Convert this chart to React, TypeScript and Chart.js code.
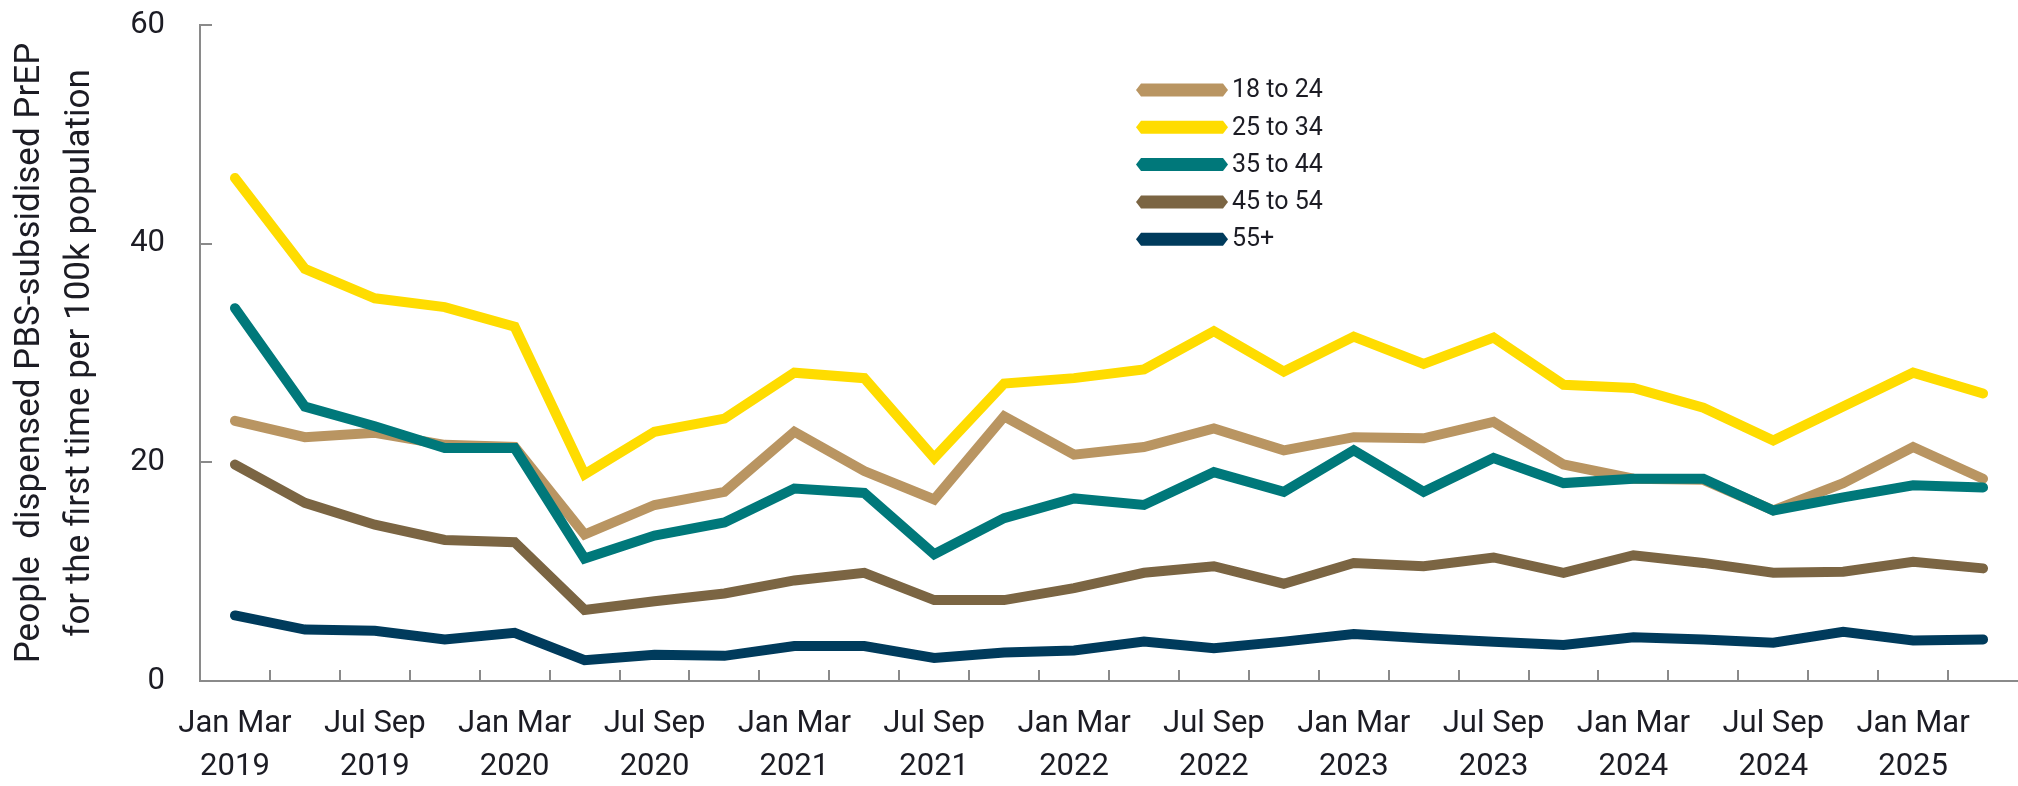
import React, { useEffect, useRef } from "react";
import { Chart, registerables } from "chart.js";

Chart.register(...registerables);

const quarterLabels = [
  "Jan Mar 2019", "Apr Jun 2019", "Jul Sep 2019", "Oct Dec 2019",
  "Jan Mar 2020", "Apr Jun 2020", "Jul Sep 2020", "Oct Dec 2020",
  "Jan Mar 2021", "Apr Jun 2021", "Jul Sep 2021", "Oct Dec 2021",
  "Jan Mar 2022", "Apr Jun 2022", "Jul Sep 2022", "Oct Dec 2022",
  "Jan Mar 2023", "Apr Jun 2023", "Jul Sep 2023", "Oct Dec 2023",
  "Jan Mar 2024", "Apr Jun 2024", "Jul Sep 2024", "Oct Dec 2024",
  "Jan Mar 2025", "Apr Jun 2025",
];

const age18to24 = [23.8, 22.3, 22.7, 21.6, 21.4, 13.4, 16.1, 17.3, 22.8, 19.2, 16.6, 24.2, 20.7, 21.4, 23.1, 21.1, 22.3, 22.2, 23.7, 19.8, 18.5, 18.4, 15.6, 18.1, 21.4, 18.5];
const age25to34 = [46.0, 37.7, 35.0, 34.2, 32.4, 18.9, 22.8, 24.0, 28.2, 27.7, 20.4, 27.2, 27.7, 28.5, 32.0, 28.3, 31.5, 29.0, 31.4, 27.1, 26.8, 25.0, 22.0, 25.1, 28.2, 26.3];
const age35to44 = [34.1, 25.1, 23.3, 21.3, 21.3, 11.2, 13.3, 14.5, 17.6, 17.2, 11.6, 14.9, 16.7, 16.1, 19.1, 17.3, 21.1, 17.3, 20.4, 18.1, 18.5, 18.5, 15.6, 16.8, 17.9, 17.7];
const age45to54 = [19.8, 16.3, 14.3, 12.9, 12.7, 6.5, 7.3, 8.0, 9.2, 9.9, 7.4, 7.4, 8.5, 9.9, 10.5, 8.9, 10.8, 10.5, 11.3, 9.9, 11.5, 10.8, 9.9, 10.0, 10.9, 10.3];
const age55plus = [6.0, 4.7, 4.6, 3.8, 4.4, 1.9, 2.4, 2.3, 3.2, 3.2, 2.1, 2.6, 2.8, 3.6, 3.0, 3.6, 4.3, 3.9, 3.6, 3.3, 4.0, 3.8, 3.5, 4.5, 3.7, 3.8];

const seriesNames = ["18 to 24", "25 to 34", "35 to 44", "45 to 54", "55+"];
const seriesColors = ["#B99562", "#FFDC00", "#00787A", "#7B6543", "#003B5C"];
const seriesValues = [age18to24, age25to34, age35to44, age45to54, age55plus];

const yTitle = ["People  dispensed PBS-subsidised PrEP", "for the first time per 100k population"];

const FONT = "Roboto, 'Liberation Sans', Arial, sans-serif";
const TEXT = "#1c1c24";
const AXIS = "#8a8a8a";

function splitLabel(label: string): string[] {
  const k = label.lastIndexOf(" ");
  return [label.slice(0, k), label.slice(k + 1)];
}

const innerTicks = {
  id: "innerTicks",
  afterDatasetsDraw(chart: any) {
    const { ctx, scales } = chart;
    const x = scales.x;
    const y = scales.y;
    ctx.save();
    ctx.strokeStyle = AXIS;
    ctx.lineWidth = 2;
    y.ticks.forEach((t: any) => {
      const py = Math.round(y.getPixelForValue(t.value));
      ctx.beginPath();
      ctx.moveTo(x.left, py);
      ctx.lineTo(x.left + 12, py);
      ctx.stroke();
    });
    for (let i = 1; i < quarterLabels.length; i++) {
      const px = Math.round((x.getPixelForValue(i) + x.getPixelForValue(i - 1)) / 2);
      ctx.beginPath();
      ctx.moveTo(px, y.bottom);
      ctx.lineTo(px, y.bottom - 11);
      ctx.stroke();
    }
    ctx.restore();
  },
};

const customLegend = {
  id: "customLegend",
  afterDraw(chart: any) {
    const { ctx } = chart;
    const x0 = 1136;
    const x1 = 1228;
    const h = 13;
    const startY = 90;
    const step = 37.3;
    ctx.save();
    ctx.font = `25px ${FONT}`;
    ctx.textBaseline = "middle";
    ctx.textAlign = "left";
    seriesNames.forEach((name, k) => {
      const cy = startY + k * step;
      ctx.fillStyle = seriesColors[k];
      ctx.beginPath();
      ctx.moveTo(x0, cy);
      ctx.lineTo(x0 + 5, cy - h / 2);
      ctx.lineTo(x1 - 5, cy - h / 2);
      ctx.lineTo(x1, cy);
      ctx.lineTo(x1 - 5, cy + h / 2);
      ctx.lineTo(x0 + 5, cy + h / 2);
      ctx.closePath();
      ctx.fill();
      ctx.fillStyle = TEXT;
      ctx.fillText(name, x1 + 4, cy + 1);
    });
    ctx.restore();
  },
};

export default function App() {
  const ref = useRef<HTMLCanvasElement>(null);
  useEffect(() => {
    document.body.style.margin = "0";
    const chart = new Chart(ref.current as HTMLCanvasElement, {
      type: "line",
      data: {
        labels: quarterLabels,
        datasets: seriesNames.map((name, k) => ({
          label: name,
          data: seriesValues[k],
          borderColor: seriesColors[k],
          backgroundColor: seriesColors[k],
          borderWidth: 10,
          pointRadius: 0,
          pointHoverRadius: 0,
          tension: 0,
          order: 5 - k,
          borderCapStyle: "round",
          borderJoinStyle: "miter",
          fill: false,
        })),
      },
      options: {
        animation: false,
        responsive: true,
        maintainAspectRatio: false,
        layout: { padding: { top: 25, right: 0, left: 0, bottom: 0 } },
        plugins: { legend: { display: false }, tooltip: { enabled: false } },
        scales: {
          x: {
            offset: true,
            grid: { display: false, drawTicks: false, offset: true },
            border: { display: true, color: AXIS, width: 2 },
            ticks: {
              autoSkip: false,
              maxRotation: 0,
              minRotation: 0,
              padding: 22,
              color: TEXT,
              font: { family: FONT, size: 31, lineHeight: 1.39 },
              callback: (_v: any, i: number) => (i % 2 === 0 ? splitLabel(quarterLabels[i]) : ""),
            },
            afterFit: (s: any) => {
              s.height = 105;
              s.paddingLeft = 0;
              s.paddingRight = 0;
            },
          },
          y: {
            min: 0,
            max: 60,
            grid: { display: false, drawTicks: false },
            border: { display: true, color: AXIS, width: 2 },
            ticks: {
              stepSize: 20,
              padding: 35,
              color: TEXT,
              font: { family: FONT, size: 31 },
            },
            title: {
              display: true,
              text: yTitle,
              color: TEXT,
              font: { family: FONT, size: 35, lineHeight: 1.43 },
              padding: { top: 5, bottom: 0 },
            },
            afterFit: (s: any) => {
              s.width = 200;
              s.paddingTop = 0;
              s.paddingBottom = 0;
            },
          },
        },
      },
      plugins: [innerTicks, customLegend],
    } as any);
    return () => chart.destroy();
  }, []);
  return (
    <div style={{ position: "absolute", left: 0, top: 0, width: 2018, height: 786 }}>
      <canvas ref={ref} />
    </div>
  );
}
